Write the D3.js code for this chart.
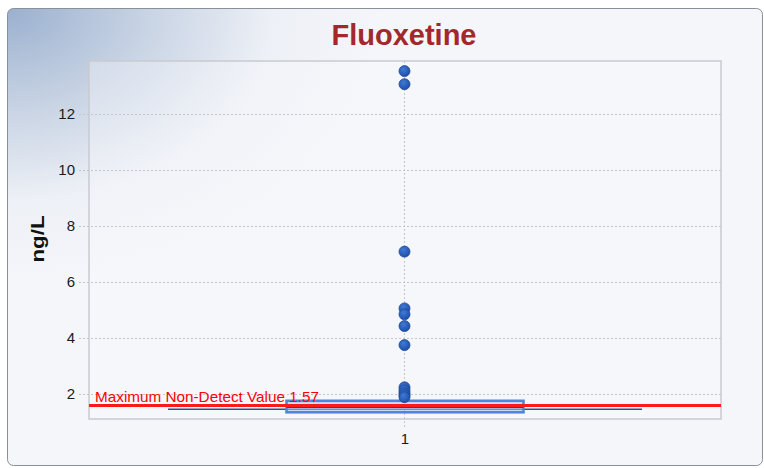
<!DOCTYPE html>
<html>
<head>
<meta charset="utf-8">
<script src="https://cdn.jsdelivr.net/npm/d3@7"></script>
<style>
  html, body { margin: 0; padding: 0; background: #ffffff; }
  svg { display: block; }
  text { font-family: "Liberation Sans", Arial, sans-serif; }
</style>
</head>
<body>
<svg id="chart" width="764" height="468"></svg>
<script>
// Fluoxetine concentrations (ng/L) for a single sample group
const categories = ["1"];
const detectValues = [13.52, 13.05, 7.07, 5.04, 4.83, 4.41, 3.73, 2.22, 2.11, 2.01, 1.94, 1.87];
const boxStats = { q1: 1.33, median: 1.52, q3: 1.74, whiskerLow: 1.44 };
const nonDetectMax = 1.57;
const yTicks = [2, 4, 6, 8, 10, 12];
const yDomain = [1.09, 13.88];

const svg = d3.select("#chart");
const W = 764, H = 468;
const plot = { left: 89, top: 61, right: 721, bottom: 419 };

// Panel background with soft highlight in the upper-left corner
const defs = svg.append("defs");
const bg = defs.append("radialGradient")
  .attr("id", "panelGlow")
  .attr("gradientUnits", "userSpaceOnUse")
  .attr("cx", 7).attr("cy", 8).attr("r", 380)
  .attr("gradientTransform", "translate(7,8) scale(1,0.72) translate(-7,-8)");
bg.append("stop").attr("offset", 0).attr("stop-color", "#9ab0ce");
bg.append("stop").attr("offset", 0.3).attr("stop-color", "#c0cde0");
bg.append("stop").attr("offset", 0.7).attr("stop-color", "#edf0f6");
bg.append("stop").attr("offset", 1).attr("stop-color", "#f5f6fa");

const dotGrad = defs.append("radialGradient")
  .attr("id", "dotFill").attr("cx", "40%").attr("cy", "35%").attr("r", "65%");
dotGrad.append("stop").attr("offset", 0).attr("stop-color", "#3f7ad6");
dotGrad.append("stop").attr("offset", 1).attr("stop-color", "#1f4fa8");

svg.append("rect").attr("width", W).attr("height", H).attr("fill", "#ffffff");
svg.append("rect")
  .attr("x", 7.5).attr("y", 8.5).attr("width", 755).attr("height", 457)
  .attr("rx", 6).attr("ry", 6)
  .attr("fill", "url(#panelGlow)")
  .attr("stroke", "#8a9098").attr("stroke-width", 1);

// Scales
const x = d3.scaleBand().domain(categories).range([plot.left, plot.right]);
const y = d3.scaleLinear().domain(yDomain).range([plot.bottom, plot.top]);
const cx = c => x(c) + x.bandwidth() / 2;

// Plot frame
svg.append("rect")
  .attr("x", plot.left).attr("y", plot.top)
  .attr("width", plot.right - plot.left).attr("height", plot.bottom - plot.top)
  .attr("fill", "rgba(248,249,252,0.35)")
  .attr("stroke", "#c8cacf").attr("stroke-width", 1.5);

// Dotted horizontal gridlines (extend left as tick marks)
svg.append("g").selectAll("line").data(yTicks).join("line")
  .attr("x1", plot.left - 10).attr("x2", plot.right)
  .attr("y1", d => Math.round(y(d)) + 0.5).attr("y2", d => Math.round(y(d)) + 0.5)
  .attr("stroke", "#c3c6cc").attr("stroke-width", 1).attr("stroke-dasharray", "2,2");

// Dotted vertical gridline at each category
svg.append("g").selectAll("line").data(categories).join("line")
  .attr("x1", d => Math.round(cx(d)) - 0.5).attr("x2", d => Math.round(cx(d)) - 0.5)
  .attr("y1", plot.top).attr("y2", plot.bottom + 8)
  .attr("stroke", "#c3c6cc").attr("stroke-width", 1).attr("stroke-dasharray", "2,2");

// Y axis labels
const yAxis = d3.axisLeft(y).tickValues(yTicks).tickSize(0).tickPadding(0).tickFormat(d3.format("d"));
const gy = svg.append("g").attr("transform", `translate(${plot.left - 14},0)`).call(yAxis);
gy.select(".domain").remove();
gy.selectAll("text")
  .attr("font-family", "'Liberation Sans', Arial, sans-serif")
  .attr("font-size", 15).attr("fill", "#1a1a1a").attr("dy", "0.35em");

// X axis labels
const xAxis = d3.axisBottom(x).tickSize(0).tickPadding(0);
const gx = svg.append("g").attr("transform", `translate(0,${plot.bottom + 14})`).call(xAxis);
gx.select(".domain").remove();
gx.selectAll("text")
  .attr("font-family", "'Liberation Sans', Arial, sans-serif")
  .attr("font-size", 15).attr("fill", "#1a1a1a").attr("dy", "0.71em");

// Box plot
const boxW = x.bandwidth() * 0.375;
const capW = x.bandwidth() * 0.75;
const boxG = svg.append("g");
categories.forEach(c => {
  const mid = cx(c);
  boxG.append("line")
    .attr("x1", mid - capW / 2).attr("x2", mid + capW / 2)
    .attr("y1", y(boxStats.whiskerLow)).attr("y2", y(boxStats.whiskerLow))
    .attr("stroke", "#2d4f8f").attr("stroke-width", 1.5);
  boxG.append("rect")
    .attr("x", mid - boxW / 2).attr("y", y(boxStats.q3))
    .attr("width", boxW).attr("height", y(boxStats.q1) - y(boxStats.q3))
    .attr("fill", "#a9c3ec").attr("fill-opacity", 0.55)
    .attr("stroke", "#4f86da").attr("stroke-width", 2.6);
  boxG.append("line")
    .attr("x1", mid - boxW / 2).attr("x2", mid + boxW / 2)
    .attr("y1", y(boxStats.median)).attr("y2", y(boxStats.median))
    .attr("stroke", "#27448a").attr("stroke-width", 2);
});

// Maximum non-detect reference line
svg.append("line")
  .attr("x1", plot.left).attr("x2", plot.right)
  .attr("y1", y(nonDetectMax)).attr("y2", y(nonDetectMax))
  .attr("stroke", "#ff1a1a").attr("stroke-width", 3);
svg.append("text")
  .attr("x", plot.left + 6).attr("y", y(nonDetectMax) - 3.5)
  .attr("font-size", 15).attr("fill", "#ff0000")
  .attr("textLength", 224).attr("lengthAdjust", "spacingAndGlyphs")
  .text(`Maximum Non-Detect Value ${nonDetectMax}`);

// Detected values
svg.append("g").selectAll("circle").data(detectValues).join("circle")
  .attr("cx", cx(categories[0]) - 0.5)
  .attr("cy", d => y(d))
  .attr("r", 5.5)
  .attr("fill", "url(#dotFill)")
  .attr("stroke", "#1d4796").attr("stroke-width", 0.8);

// Title
svg.append("text")
  .attr("x", (plot.left + plot.right) / 2 - 1).attr("y", 45)
  .attr("text-anchor", "middle")
  .attr("font-size", 29).attr("font-weight", "bold").attr("fill", "#a3282b")
  .text("Fluoxetine");

// Y axis title
svg.append("text")
  .attr("transform", `translate(44,239) rotate(-90)`)
  .attr("text-anchor", "middle")
  .attr("font-family", "'DejaVu Sans', Verdana, sans-serif")
  .attr("font-size", 19).attr("font-weight", "bold").attr("fill", "#111")
  .attr("textLength", 47).attr("lengthAdjust", "spacingAndGlyphs")
  .text("ng/L");
</script>
</body>
</html>
